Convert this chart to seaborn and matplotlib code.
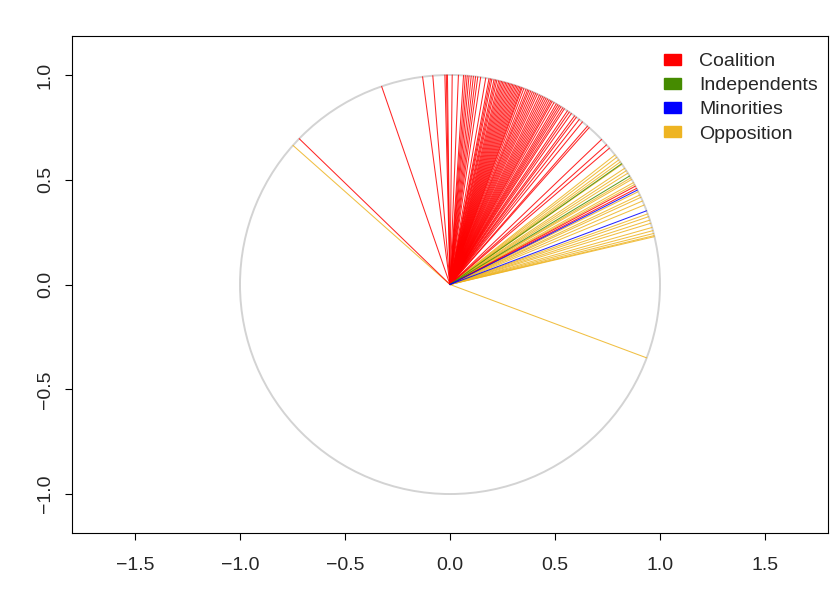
import numpy as np
import pandas as pd
import matplotlib
matplotlib.use("Agg")
import matplotlib.pyplot as plt
from matplotlib.patches import Circle, Patch
import seaborn as sns

# ---- data: direction (degrees) of each member's vector, by group ----
coalition_deg = [135.9, 109.0,
                 97.5, 94.7, 91.4, 91.0, 90.7, 89.4, 87.7,
                 86.3, 85.8, 85.3, 84.8, 84.2, 83.6, 83.0, 82.4, 81.6,
                 80.2, 79.3, 78.9, 78.5, 77.9, 77.5, 77.1, 76.6, 76.2, 75.8,
                 75.4, 75.0, 74.6, 74.2, 73.8, 73.4, 73.0, 72.6, 72.2, 71.8,
                 71.4, 71.0, 70.6, 70.2, 69.9, 69.4,
                 68.8, 68.3, 67.9, 67.4, 66.9, 66.4, 65.9, 65.4, 64.8, 64.3,
                 63.8, 63.3, 62.8, 62.3,
                 61.8, 61.3, 60.9, 60.3, 59.6, 59.1, 58.6, 58.1, 57.5, 57.0,
                 56.0, 55.4, 54.7, 53.6, 53.0, 52.0, 50.9, 49.1,
                 48.5, 43.8, 41.8, 40.6,
                 28.0, 27.3]
independents_deg = [35.2, 31.2]
minorities_deg = [26.8, 20.6]
opposition_deg = [138.4, -20.5,
                  38.2, 37.4, 36.5, 35.8, 35.0, 33.7, 32.9, 32.1, 30.6, 30.1,
                  29.1, 28.5, 26.3, 25.3, 24.6, 23.5, 22.3, 19.7, 18.9, 17.9,
                  17.0, 15.8, 14.9, 14.1, 13.5, 13.2]

groups = ["Coalition", "Independents", "Minorities", "Opposition"]
colors = ["#FF0000", "#458B00", "#0000FF", "#EEB422"]
x_ticks = [-1.5, -1.0, -0.5, 0.0, 0.5, 1.0, 1.5]
y_ticks = [-1.0, -0.5, 0.0, 0.5, 1.0]

# ---- build segment table (origin -> point on unit circle) ----
rows = []
uid = 0
for g, degs in zip(groups, [coalition_deg, independents_deg, minorities_deg, opposition_deg]):
    for d in degs:
        a = np.deg2rad(d)
        rows.append(dict(id=uid, group=g, order=0, x=0.0, y=0.0))
        rows.append(dict(id=uid, group=g, order=1, x=np.cos(a), y=np.sin(a)))
        uid += 1
df = pd.DataFrame(rows)

sns.set_style("white")
plt.rcParams["font.family"] = ["Liberation Sans", "DejaVu Sans"]

fig = plt.figure(figsize=(8.4, 6), dpi=100)
ax = fig.add_axes([72 / 840, 67 / 600, 756 / 840, 497 / 600])

ax.add_patch(Circle((0, 0), 1, fill=False, ec="#D3D3D3", lw=1.4, zorder=1))

palette = dict(zip(groups, colors))
sns.lineplot(data=df, x="x", y="y", hue="group", units="id", estimator=None,
             sort=False, palette=palette,
             hue_order=["Opposition", "Coalition", "Independents", "Minorities"],
             lw=0.75, alpha=0.85, legend=False, ax=ax, zorder=2)

ax.set_xlim(-1.80, 1.80)
ax.set_ylim(-1.186, 1.186)
ax.set_xticks(x_ticks)
ax.set_yticks(y_ticks)
ax.set_xticklabels([f"{v:.1f}".replace("-", "\u2212") for v in x_ticks])
ax.set_yticklabels([f"{v:.1f}".replace("-", "\u2212") for v in y_ticks],
                   rotation=90, va="center")
ax.set_xlabel("")
ax.set_ylabel("")
ax.tick_params(axis="both", direction="out", length=5, width=0.8, color="black",
               labelsize=14, left=True, bottom=True)
ax.tick_params(axis="x", pad=12)
ax.tick_params(axis="y", pad=8)
for s in ax.spines.values():
    s.set_visible(True)
    s.set_color("black")
    s.set_linewidth(0.8)

handles = [Patch(facecolor=c, edgecolor=c) for c in colors]
ax.legend(handles, groups, loc="upper left", bbox_to_anchor=(664 / 840, 1 - 53 / 600),
          bbox_transform=fig.transFigure, frameon=False, fontsize=14,
          handlelength=0.85, handleheight=0.5, handletextpad=0.95,
          labelspacing=0.37, borderpad=0, borderaxespad=0)

fig.savefig("out.png", dpi=100)
